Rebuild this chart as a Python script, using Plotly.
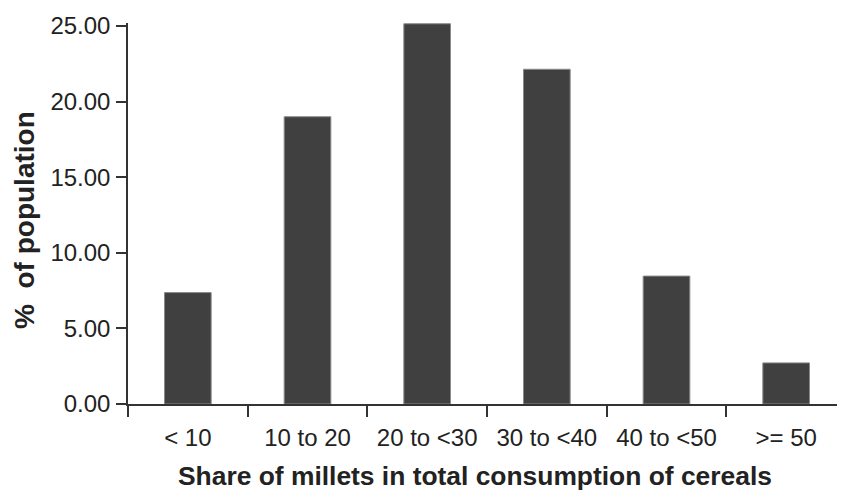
import plotly.graph_objects as go

categories = ["< 10", "10 to 20", "20 to <30", "30 to <40", "40 to <50", ">= 50"]
values = [7.37, 19.0, 25.15, 22.14, 8.46, 2.72]
y_ticks = [0, 5, 10, 15, 20, 25]
y_tick_labels = ["0.00", "5.00", "10.00", "15.00", "20.00", "25.00"]
x_title = "<b>Share of millets in total consumption of cereals</b>"
y_title = "<b>%  of population</b>"

fig = go.Figure(go.Bar(
    x=categories, y=values, width=0.39,
    marker=dict(color="#404040", line=dict(color="#8a8a8a", width=1)),
))

font = "Liberation Sans, Arial, sans-serif"
fig.update_layout(
    width=845, height=490,
    margin=dict(l=120, r=7, t=15, b=94, autoexpand=False),
    plot_bgcolor="white", paper_bgcolor="white",
    showlegend=False,
    font=dict(family=font, color="#222222"),
    xaxis=dict(
        type="category", tickson="boundaries", ticks="outside", ticklen=11,
        tickcolor="#333333", tickwidth=1.5, showline=True, linecolor="#333333", linewidth=1.5,
        tickfont=dict(size=24, color="#222222"), showgrid=False, automargin=False,
        ticklabelstandoff=11,
        range=[-0.5, 5.5],
    ),
    yaxis=dict(
        range=[0, 25.2], tickvals=y_ticks, ticktext=y_tick_labels,
        ticks="outside", ticklen=10, tickcolor="#333333", tickwidth=1.5,
        showline=True, linecolor="#333333", linewidth=1.5,
        showgrid=False, zeroline=False, automargin=False,
        ticklabelstandoff=1,
        tickfont=dict(size=24, color="#222222"),
    ),
    annotations=[
        dict(text=x_title, xref="paper", yref="paper", x=0.483, y=0,
             xanchor="center", yanchor="middle", yshift=-72, showarrow=False,
             font=dict(size=26.4, color="#222222")),
        dict(text=y_title, xref="paper", yref="paper", x=0, y=0.483,
             xanchor="center", yanchor="middle", xshift=-103, textangle=-90, showarrow=False,
             font=dict(size=28, color="#222222")),
    ],
)

fig.write_html("out.html")
